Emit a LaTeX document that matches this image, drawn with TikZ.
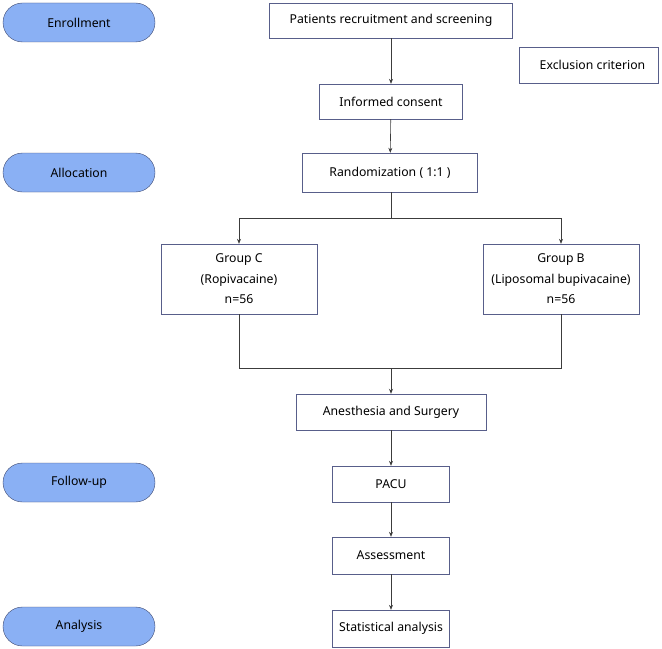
\documentclass[tikz,border=0pt]{standalone}
\usepackage{fontspec}
\setmainfont{Noto Sans}
\usetikzlibrary{arrows.meta}
\definecolor{pillblue}{RGB}{138,176,244}
\definecolor{pilledge}{RGB}{62,72,110}
\definecolor{boxedge}{RGB}{88,94,138}
\definecolor{lineg}{RGB}{60,60,60}
\tikzset{flow/.style={x=1bp,y=-1bp,font=\fontsize{12.3}{20.5}\selectfont,>={Stealth[length=5pt,width=4pt]}}}
\tikzset{phase/.style={draw=pilledge,fill=pillblue,rounded corners=19.5bp,minimum width=152bp,minimum height=39bp,inner sep=0pt},
         stepbox/.style={draw=boxedge,fill=white,minimum height=36bp,inner sep=0pt,align=center},
         link/.style={lineg,semithick}}

\begin{document}
\begin{tikzpicture}[flow]
    \useasboundingbox (0,0) rectangle (662,649);
    % phases on the left
    \node[phase] (enroll)  at (79,22.5)  {Enrollment};
    \node[phase] (alloc)   at (79,172.5) {Allocation};
    \node[phase] (follow)  at (79,482.5) {Follow-up};
    \node[phase] (analys)  at (79,626.5) {Analysis};
    % main column
    \node[stepbox,minimum width=243bp,minimum height=35bp] (recruit) at (391,20.5)  {Patients recruitment and screening};
    \node[stepbox,minimum width=139bp] (exclude) at (588.5,65) {\hspace*{8bp}Exclusion criterion};
    \node[stepbox,minimum width=143bp,minimum height=35bp] (consent) at (391,101.5) {Informed consent};
    \node[stepbox,minimum width=175bp,minimum height=39bp] (random)  at (390,172.5) {Randomization ( 1:1 )};
    \node[stepbox,minimum width=156bp,minimum height=70bp] (grpC) at (239,279) {Group C\\(Ropivacaine)\\n=56};
    \node[stepbox,minimum width=156bp,minimum height=70bp] (grpB) at (561,279) {Group B\\(Liposomal bupivacaine)\\n=56};
    \node[stepbox,minimum width=190bp] (anesth) at (391,412)   {Anesthesia and Surgery};
    \node[stepbox,minimum width=117bp] (pacu)   at (391,484)   {PACU};
    \node[stepbox,minimum width=117bp,minimum height=37bp] (assess) at (391,555.5) {Assessment};
    \node[stepbox,minimum width=117bp,minimum height=37bp] (stats)  at (391,628.5) {Statistical analysis};
    \coordinate (split) at (391,218);
    \coordinate (join)  at (391,368);
    % connectors
    \draw[link,->] (recruit) -- (consent);
    \draw[link,->] (consent) -- (random);
    \draw[link] (random.south -| split) -- (split);
    \draw[link,->] (split) -| (grpC);
    \draw[link,->] (split) -| (grpB);
    \draw[link] (grpC) |- (join);
    \draw[link] (grpB) |- (join);
    \draw[link,thick,->] (join) -- (anesth);
    \draw[link,->] (anesth) -- (pacu);
    \draw[link,->] (pacu) -- (assess);
    \draw[link,->] (assess) -- (stats);
  \end{tikzpicture}
\end{document}
